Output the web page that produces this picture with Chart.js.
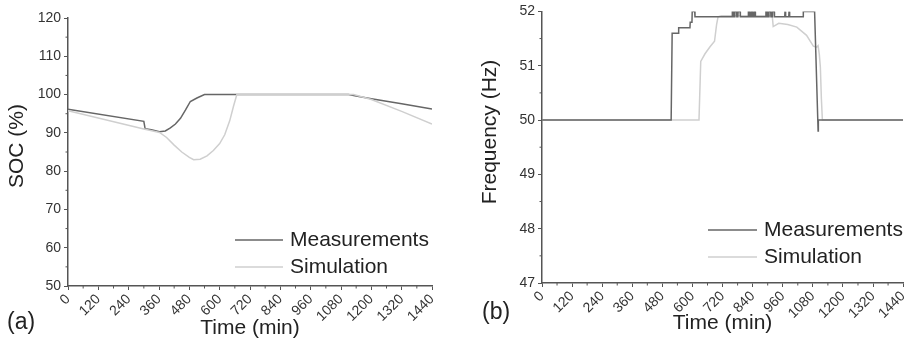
<!DOCTYPE html>
<html>
<head>
<meta charset="utf-8">
<script src="https://cdn.jsdelivr.net/npm/chart.js@4/dist/chart.umd.min.js"></script>
<style>
  html, body { margin: 0; padding: 0; background: #fff; }
  .panel { position: absolute; top: 0; width: 458px; height: 341px; }
  #pa { left: 0; }
  #pb { left: 458px; }
</style>
</head>
<body>
<div class="panel" id="pa"><canvas id="socChart"></canvas></div>
<div class="panel" id="pb"><canvas id="freqChart"></canvas></div>
<script>
// ---- data ----
const timeTicks = [0, 120, 240, 360, 480, 600, 720, 840, 960, 1080, 1200, 1320, 1440]
const socTicks = [50, 60, 70, 80, 90, 100, 110, 120]
const freqTicks = [47, 48, 49, 50, 51, 52]

// (a) state of charge
const socMeasT = [0, 300, 305, 330, 362, 385, 405, 425, 445, 465, 484, 510, 540, 1110, 1140, 1200, 1320, 1440]
const socMeasV = [96.2, 93.0, 91.1, 90.8, 90.3, 90.5, 91.3, 92.3, 93.8, 96.0, 98.2, 99.1, 100, 100, 99.6, 98.9, 97.6, 96.2]
const socSimT = [0, 300, 362, 390, 420, 450, 480, 497, 523, 550, 575, 600, 620, 640, 655, 668, 1130, 1200, 1320, 1440]
const socSimV = [95.8, 91.0, 90.1, 88.8, 86.8, 85.0, 83.6, 83.0, 83.1, 84.0, 85.4, 87.2, 89.5, 93.2, 97.0, 100, 100, 98.7, 95.6, 92.3]

// (b) frequency
const freqMeasT = [0, 515, 519, 544, 545, 590, 591, 598, 599, 609, 610,
  758, 759, 764, 765, 768, 769, 776, 777, 781, 782, 790, 791,
  822, 823, 828, 829, 834, 835, 840, 841, 846, 847, 850, 851,
  892, 893, 898, 899, 904, 905, 912, 913, 918, 919, 926, 927,
  968, 969, 971, 972, 984, 985, 987, 988,
  1041, 1042, 1087, 1101, 1102, 1440]
const freqMeasV = [50, 50, 51.6, 51.6, 51.7, 51.7, 51.8, 51.8, 52, 52, 51.9,
  51.9, 52, 52, 51.9, 51.9, 52, 52, 51.9, 51.9, 52, 52, 51.9,
  51.9, 52, 52, 51.9, 51.9, 52, 52, 51.9, 51.9, 52, 52, 51.9,
  51.9, 52, 52, 51.9, 51.9, 52, 52, 51.9, 51.9, 52, 52, 51.9,
  51.9, 52, 52, 51.9, 51.9, 52, 52, 51.9,
  51.9, 52, 52, 49.8, 50, 50]
const freqSimT = [0, 626, 633, 650, 670, 688, 696, 702, 715, 918, 922, 944, 980, 1016, 1055, 1082, 1095, 1101, 1106, 1110, 1114, 1118, 1440]
const freqSimV = [50, 50, 51.08, 51.22, 51.35, 51.45, 51.75, 51.9, 51.92, 51.92, 51.72, 51.78, 51.76, 51.71, 51.56, 51.36, 51.34, 51.37, 51.2, 50.97, 50.4, 50, 50]

const FONT = '"Liberation Sans", Arial, sans-serif'
const AXIS = '#555'
const MEAS_COLOR = '#666'
const SIM_COLOR = '#cfcfcf'

const pts = (t, v) => t.map((x, i) => ({ x: x, y: v[i] }))

// legend, panel letter and y title drawn by hand
const insideLegend = {
  id: 'insideLegend',
  afterDraw(chart, args, o) {
    const ctx = chart.ctx
    ctx.save()
    ctx.textBaseline = 'middle'
    ctx.font = '21px ' + FONT
    chart.data.datasets.forEach((ds, i) => {
      const y = o.y + i * o.row
      ctx.strokeStyle = ds.borderColor
      ctx.lineWidth = 1.5
      ctx.beginPath()
      ctx.moveTo(o.x, y)
      ctx.lineTo(o.x + o.len, y)
      ctx.stroke()
      ctx.fillStyle = '#222'
      ctx.fillText(ds.label, o.x + o.len + 7, y)
    })
    ctx.font = '23px ' + FONT
    ctx.fillText(o.panel, o.px, o.py)
    // y axis title
    ctx.font = '21px ' + FONT
    ctx.textAlign = 'center'
    ctx.translate(o.tx, o.ty)
    ctx.rotate(-Math.PI / 2)
    ctx.fillText(o.title, 0, 0)
    ctx.restore()
  }
}

// small minor ticks half way between the labelled ones
const minorTicks = {
  id: 'minorTicks',
  afterDraw(chart) {
    const ctx = chart.ctx
    ctx.save()
    ctx.strokeStyle = AXIS
    ctx.lineWidth = 1
    const xs = chart.scales.x, ys = chart.scales.y
    for (let i = 0; i < xs.ticks.length - 1; i++) {
      const p = xs.getPixelForValue((xs.ticks[i].value + xs.ticks[i + 1].value) / 2)
      ctx.beginPath(); ctx.moveTo(p, xs.top); ctx.lineTo(p, xs.top + 2.5); ctx.stroke()
    }
    for (let i = 0; i < ys.ticks.length - 1; i++) {
      const p = ys.getPixelForValue((ys.ticks[i].value + ys.ticks[i + 1].value) / 2)
      ctx.beginPath(); ctx.moveTo(ys.right, p); ctx.lineTo(ys.right - 2.5, p); ctx.stroke()
    }
    ctx.restore()
  }
}

function makeChart(id, cfg) {
  return new Chart(document.getElementById(id), {
    type: 'line',
    data: {
      datasets: [{
        label: 'Measurements',
        data: cfg.meas,
        borderColor: MEAS_COLOR,
        borderWidth: 1.5,
        pointRadius: 0,
        tension: 0,
        order: cfg.measOrder
      }, {
        label: 'Simulation',
        data: cfg.sim,
        borderColor: SIM_COLOR,
        borderWidth: 1.5,
        pointRadius: 0,
        tension: 0,
        order: 0
      }]
    },
    options: {
      responsive: true,
      maintainAspectRatio: false,
      animation: false,
      layout: { padding: cfg.padding },
      plugins: {
        legend: { display: false },
        tooltip: { enabled: false },
        insideLegend: cfg.legend
      },
      scales: {
        x: {
          type: 'linear',
          min: 0,
          max: 1440,
          afterBuildTicks: s => { s.ticks = timeTicks.map(v => ({ value: v })) },
          afterFit: s => { s.height = cfg.xHeight },
          ticks: { minRotation: 45, maxRotation: 45, padding: 1, color: '#333', font: { family: FONT, size: 14 }, callback: v => String(v) },
          grid: { drawOnChartArea: false, tickLength: 4, color: AXIS },
          border: { color: AXIS, width: 1.5 },
          title: { display: true, text: 'Time (min)', color: '#222', padding: { top: 0, bottom: cfg.xTitlePad }, font: { family: FONT, size: 21 } }
        },
        y: {
          min: cfg.yMin,
          max: cfg.yMax,
          afterBuildTicks: s => { s.ticks = cfg.yTicks.map(v => ({ value: v })) },
          afterFit: s => { s.width = cfg.yWidth },
          ticks: { padding: 3, color: '#333', font: { family: FONT, size: 14 }, callback: v => String(v) },
          grid: { drawOnChartArea: false, tickLength: 4, color: AXIS },
          border: { color: AXIS, width: 1.5 }
        }
      }
    },
    plugins: [insideLegend, minorTicks]
  })
}

makeChart('socChart', {
  meas: pts(socMeasT, socMeasV),
  sim: pts(socSimT, socSimV),
  measOrder: 1,
  yMin: 50, yMax: 120, yTicks: socTicks,
  padding: { top: 18, right: 26, left: 0, bottom: 0 },
  xHeight: 55, yWidth: 68, xTitlePad: 0,
  legend: { x: 235, y: 240, row: 27, len: 48, panel: '(a)', px: 7, py: 323, title: 'SOC (%)', tx: 17, ty: 146 }
})

makeChart('freqChart', {
  meas: pts(freqMeasT, freqMeasV),
  sim: pts(freqSimT, freqSimV),
  measOrder: -1,
  yMin: 47, yMax: 52, yTicks: freqTicks,
  padding: { top: 11, right: 8, left: 16, bottom: 0 },
  xHeight: 58, yWidth: 68, xTitlePad: 5,
  legend: { x: 250, y: 230, row: 27, len: 49, panel: '(b)', px: 24, py: 313, title: 'Frequency (Hz)', tx: 32, ty: 132 }
})
</script>
</body>
</html>
